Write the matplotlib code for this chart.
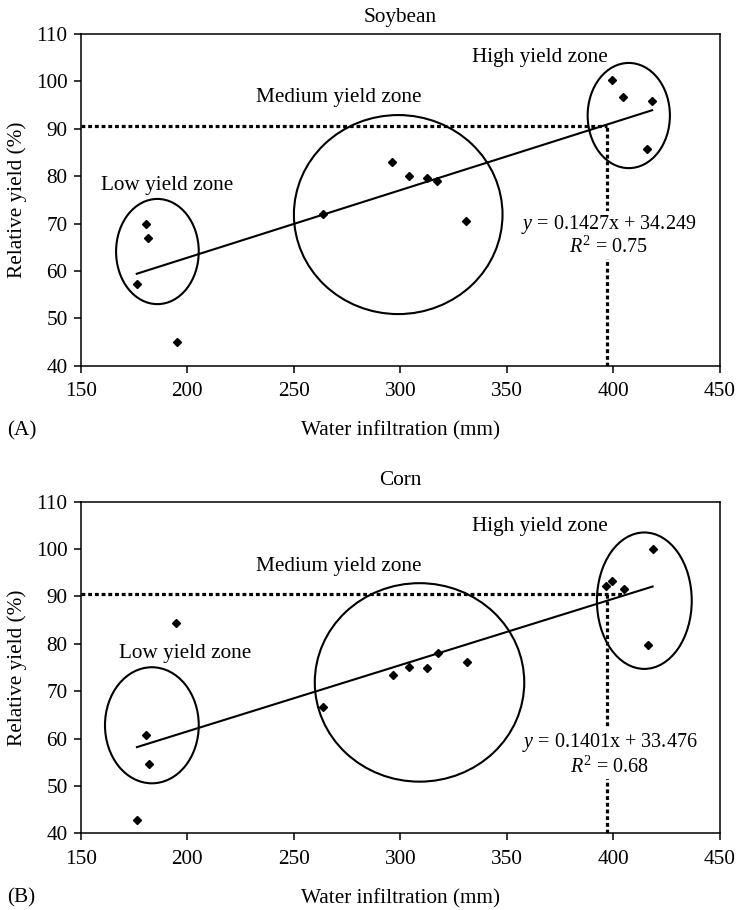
import numpy as np
import matplotlib
matplotlib.use("Agg")
import matplotlib.pyplot as plt
from matplotlib.patches import Ellipse

plt.rcParams['font.family'] = ['Liberation Serif', 'DejaVu Serif']
plt.rcParams['mathtext.fontset'] = 'custom'
plt.rcParams['mathtext.rm'] = 'Liberation Serif'
plt.rcParams['mathtext.it'] = 'Liberation Serif:italic'

# ---- data ----
soy_x = [176.3, 180.5, 181.4, 195.3, 263.6, 296.2, 304.2, 312.6, 317.3, 331.0, 399.2, 404.6, 415.9, 418.2]
soy_y = [57.3, 70.0, 66.9, 45.0, 72.0, 82.9, 80.1, 79.6, 79.0, 70.6, 100.3, 96.7, 85.7, 95.8]
soy_fit = (0.1427, 34.249)
soy_r2 = "0.75"

corn_x = [176.4, 180.5, 181.9, 194.9, 263.6, 296.7, 303.9, 312.3, 317.8, 331.1, 396.7, 399.5, 405.1, 416.1, 418.4]
corn_y = [42.7, 60.8, 54.7, 84.3, 66.6, 73.4, 75.0, 74.8, 78.0, 76.2, 92.1, 93.3, 91.5, 79.8, 100.0]
corn_fit = (0.1401, 33.476)
corn_r2 = "0.68"

threshold_y = [90.6, 90.5]
threshold_x = [396.8, 396.8]

zone_names = ["Low yield zone", "Medium yield zone", "High yield zone"]

xticks = [150, 200, 250, 300, 350, 400, 450]
yticks = [40, 50, 60, 70, 80, 90, 100, 110]

FS = 14.5
FS_LAB = 15.3

fig = plt.figure(figsize=(7.37, 9.10), dpi=100)
ax1 = fig.add_axes([0.1095, 0.5981, 0.8674, 0.3645])
ax2 = fig.add_axes([0.1095, 0.0843, 0.8674, 0.3644])

panels = [
    dict(ax=ax1, x=soy_x, y=soy_y, fit=soy_fit, r2=soy_r2, title="Soybean", tag="(A)",
         ty=threshold_y[0], tx=threshold_x[0], hend=396.8,
         ell=[(186.0, 64.1, 38.8, 22.2), (299.0, 71.9, 97.9, 42.0), (407.2, 92.8, 38.6, 22.2)],
         lab=[(190.6, 78.0), (271.1, 96.6), (365.4, 105.1)],
         eq=(397.9, 69.7, 65.1), title_off=0.036),
    dict(ax=ax2, x=corn_x, y=corn_y, fit=corn_fit, r2=corn_r2, title="Corn", tag="(B)",
         ty=threshold_y[1], tx=threshold_x[1], hend=404.0,
         ell=[(183.4, 62.8, 44.0, 24.5), (309.0, 71.85, 98.3, 41.9), (414.5, 89.1, 44.5, 28.8)],
         lab=[(199.2, 77.85), (271.1, 96.3), (365.4, 104.7)],
         eq=(398.3, 59.2, 54.05), title_off=0.05),
]

for p in panels:
    ax = p["ax"]
    ax.set_xlim(150, 450)
    ax.set_ylim(40, 110)
    ax.set_xticks(xticks)
    ax.set_yticks(yticks)
    ax.tick_params(direction='out', length=5, width=1.1, labelsize=FS_LAB, top=False, right=False)
    ax.tick_params(axis='y', pad=4.5)
    ax.tick_params(axis='x', pad=7)
    for s in ax.spines.values():
        s.set_linewidth(1.1)
        s.set_color('black')

    # threshold dotted lines
    ax.plot([150, p["hend"]], [p["ty"], p["ty"]], color='black', lw=2.3,
            linestyle=(0, (1.2, 0.9)), zorder=2)
    ax.plot([p["tx"], p["tx"]], [40, p["ty"]], color='black', lw=2.3,
            linestyle=(0, (1.2, 0.9)), zorder=2)

    # ellipses
    for (cx, cy, w, h) in p["ell"]:
        ax.add_patch(Ellipse((cx, cy), w, h, fill=False, edgecolor='black', lw=1.5, zorder=3))

    # regression line
    xs = np.array([min(p["x"]), max(p["x"])])
    m, b = p["fit"]
    ax.plot(xs, m * xs + b, color='black', lw=1.5, zorder=4)

    # points
    ax.plot(p["x"], p["y"], linestyle='none', marker='D', markersize=4.5,
            color='black', zorder=5)

    # zone labels
    for name, (lx, ly) in zip(zone_names, p["lab"]):
        ax.text(lx, ly, name, ha='center', va='center', fontsize=FS_LAB, zorder=6)

    # equation
    ex, ey1, ey2 = p["eq"]
    ax.text(ex, ey1, r"$y$ = %.4fx + %.3f" % (m, b), ha='center', va='center', fontsize=FS,
            zorder=6, bbox=dict(facecolor='white', edgecolor='none', pad=1.5))
    ax.text(ex, ey2, r"$R^2$ = " + p["r2"], ha='center', va='center', fontsize=FS,
            zorder=6, bbox=dict(facecolor='white', edgecolor='none', pad=1.5))

    ax.text(0.5, 1 + p["title_off"], p["title"], transform=ax.transAxes, ha='center',
            va='baseline', fontsize=FS_LAB)
    ax.text(0.5, -0.196, "Water infiltration (mm)", transform=ax.transAxes, ha='center',
            va='center', fontsize=FS_LAB)
    ax.text(-0.0996, 0.5, "Relative yield (%)", transform=ax.transAxes, ha='center',
            va='center', rotation=90, fontsize=FS_LAB)
    ax.text(-0.115, -0.196, p["tag"], transform=ax.transAxes, ha='left',
            va='center', fontsize=FS_LAB)

fig.savefig("out.png", dpi=100, facecolor='white')
